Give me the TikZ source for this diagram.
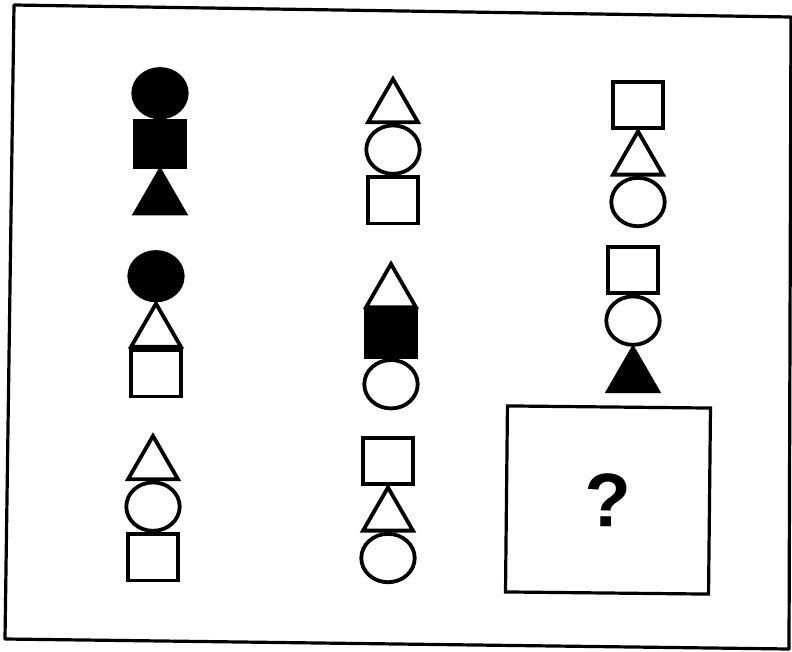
\documentclass[tikz,border=0pt]{standalone}
\usepackage{fontspec}
\setsansfont{Liberation Sans}
\usepackage{tikz}
\usetikzlibrary{positioning,shapes.geometric}

\begin{document}
\begin{tikzpicture}[
    x=0.025cm, y=-0.025cm,
    node distance=0.08cm,
    figw/.style={draw, line width=0.095cm, fill=white, inner sep=0pt, outer sep=0pt},
    figb/.style={draw, line width=0.095cm, fill=black, inner sep=0pt, outer sep=0pt},
    sq/.style={rectangle, minimum width=1.26cm, minimum height=1.16cm},
    circ/.style={ellipse, minimum width=1.335cm, minimum height=1.21cm},
    tri/.style={regular polygon, regular polygon sides=3, minimum size=1.44cm},
    frame/.style={line width=0.08cm, line join=round},
    qbox/.style={draw, line width=0.08cm, minimum width=5.075cm, minimum height=4.65cm, rotate=-0.6, font=\sffamily\bfseries\fontsize{54}{54}\selectfont}
  ]
    \useasboundingbox (0,0) rectangle (792,652);
    \draw[frame] (14,5) -- (791,17) -- (789,649) -- (5,639) -- cycle;
    % column 1
    \node[figb, circ, anchor=north] (a1) at (160,69) {};
    \node[figb, sq, below=of a1] (a2) {};
    \node[figb, tri, below=of a2] (a3) {};
    \node[figb, circ, anchor=north] (b1) at (156,252) {};
    \node[figw, tri, below=of b1] (b2) {};
    \node[figw, sq, below=of b2] (b3) {};
    \node[figw, tri, anchor=north] (c1) at (153,436) {};
    \node[figw, circ, below=of c1] (c2) {};
    \node[figw, sq, below=of c2] (c3) {};
    % column 2
    \node[figw, tri, anchor=north] (d1) at (393,79) {};
    \node[figw, circ, below=of d1] (d2) {};
    \node[figw, sq, below=of d2] (d3) {};
    \node[figw, tri, anchor=north] (e1) at (391,264) {};
    \node[figb, sq, below=of e1] (e2) {};
    \node[figw, circ, below=of e2] (e3) {};
    \node[figw, sq, anchor=north] (f1) at (388,437.8) {};
    \node[figw, tri, below=of f1] (f2) {};
    \node[figw, circ, below=of f2] (f3) {};
    % column 3
    \node[figw, sq, anchor=north] (g1) at (638,81.8) {};
    \node[figw, tri, below=of g1] (g2) {};
    \node[figw, circ, below=of g2] (g3) {};
    \node[figw, sq, anchor=north] (h1) at (633,246.8) {};
    \node[figw, circ, below=of h1] (h2) {};
    \node[figb, tri, below=of h2] (h3) {};
    \node[qbox] (ask) at (608,500) {?};
\end{tikzpicture}
\end{document}
